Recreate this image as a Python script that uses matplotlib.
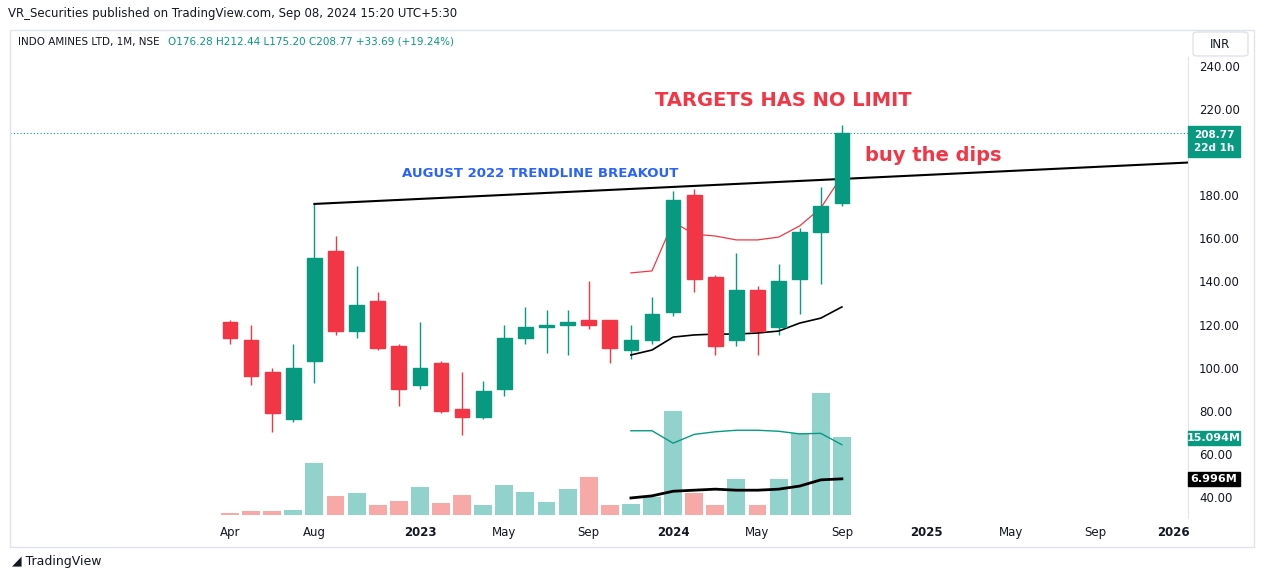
import matplotlib.pyplot as plt
from matplotlib.patches import Rectangle, FancyBboxPatch

W, H = 1264, 578

# monthly candles Apr 2022 .. Sep 2024
opens  = [121, 113, 98, 76, 103, 154, 117, 131, 110, 92, 102, 81, 77, 90, 114, 119, 120, 122, 122, 108,
          113, 126, 180, 142, 113, 136, 119, 141, 163, 176.28]
highs  = [122, 120, 100, 111, 176, 161, 147, 135, 111, 121, 103, 98, 94, 120, 128, 127, 127, 140, 122, 120,
          133, 182, 183, 143, 153, 138, 148, 165, 184, 212.44]
lows   = [111, 92, 70, 75, 93, 115, 114, 108, 82, 90, 79, 69, 76, 87, 111, 107, 106, 118, 102, 104,
          111, 124, 135, 106, 110, 106, 115, 125, 139, 175.20]
closes = [114, 96, 79, 100, 151, 117, 129, 109, 90, 100, 80, 77, 89, 114, 119, 120, 121, 120, 109, 113,
          125, 178, 141, 110, 136, 117, 140, 163, 175, 208.77]
volume = [0.4, 0.8, 0.8, 1.0, 10.1, 3.7, 4.3, 1.9, 2.7, 5.4, 2.3, 3.9, 1.9, 5.8, 4.5, 2.5,
          5.0, 7.4, 1.9, 2.1, 3.5, 20.1, 4.3, 1.9, 7.0, 1.9, 7.0, 15.9, 23.6, 15.094]
# moving averages from Nov 2023
ma_start = 19
price_ma_red = [144.0, 144.9, 167.6, 162.0, 161.1, 159.3, 159.3, 160.6, 165.8, 174.1, 189.0]
price_ma_blk = [105.9, 108.2, 114.2, 115.2, 115.6, 115.6, 116.1, 117.0, 120.7, 123.0, 128.2]
vol_ma_teal = [16.3, 16.3, 13.9, 15.6, 16.1, 16.4, 16.4, 16.2, 15.7, 15.8, 13.6]
vol_ma_blk = [3.3, 3.7, 4.6, 4.8, 5.0, 4.8, 4.8, 5.0, 5.6, 6.8, 6.996]
tick_pos = [0, 4, 9, 13, 17, 21, 25, 29, 33, 37, 41, 44.7]
tick_lbl = ["Apr", "Aug", "2023", "May", "Sep", "2024", "May", "Sep", "2025", "May", "Sep", "2026"]
# 200.00 sits under the last-price tag, so it is not shown
price_ticks = [40, 60, 80, 100, 120, 140, 160, 180, 220, 240]

GREEN, RED = "#089981", "#f23645"
VGREEN, VRED = "#92d2cc", "#f7a9a7"

fig = plt.figure(figsize=(W / 100, H / 100), dpi=100)
L, R, T, B = 10, 1188, 57, 518
ax = fig.add_axes([L / W, 1 - B / H, (R - L) / W, (B - T) / H])
axv = ax.twinx()
ax.set_zorder(axv.get_zorder() + 1)
ax.patch.set_visible(False)

ppu = 2.155
ax.set_ylim(240 - (B - 66) / ppu, 240 + (66 - T) / ppu)
vpp = 0.1935
axv.set_ylim(-(B - 515) * vpp, (515 - T) * vpp)
ax.set_xlim((L - 230) / 21.1, (R - 230) / 21.1)

for i, v in enumerate(volume):
    axv.bar(i, v, width=0.85, color=VGREEN if closes[i] >= opens[i] else VRED, zorder=1)
xm = list(range(ma_start, ma_start + len(vol_ma_teal)))
axv.plot(xm, vol_ma_teal, color=GREEN, lw=1)
axv.plot(xm, vol_ma_blk, color="black", lw=2)

for i in range(len(opens)):
    c = GREEN if closes[i] >= opens[i] else RED
    ax.vlines(i, lows[i], highs[i], color=c, lw=1)
    lo, hi = sorted([opens[i], closes[i]])
    ax.add_patch(Rectangle((i - 0.35, lo), 0.7, max(hi - lo, 0.6), color=c, zorder=3))
ax.plot(xm, price_ma_red, color=RED, lw=0.9)
ax.plot(xm, price_ma_blk, color="black", lw=1.2)

# trendline through Aug 2022 high
ax.plot([4, 45.4], [176, 195.2], color="black", lw=1.5)
ax.axhline(208.77, color=GREEN, lw=0.8, ls=(0, (1, 2)))

ax.text(14.7, 189.9, "AUGUST 2022 TRENDLINE BREAKOUT", color="#2962ff", fontsize=9.5,
        fontweight="bold", ha="center", va="center")
ax.text(26.2, 223.8, "TARGETS HAS NO LIMIT", color=RED, fontsize=14, fontweight="bold",
        ha="center", va="center")
ax.text(30.1, 198.7, "buy the dips", color=RED, fontsize=14, fontweight="semibold", va="center")

ax.set_xticks(tick_pos)
ax.set_xticklabels(tick_lbl, fontsize=8.5, color="#131722")
for lbl in ax.get_xticklabels():
    if lbl.get_text().isdigit():
        lbl.set_fontweight("bold")
ax.tick_params(axis="x", length=0, pad=6)
ax.yaxis.tick_right()
ax.set_yticks(price_ticks)
ax.set_yticklabels([f"{p:.2f}" for p in price_ticks], fontsize=8.5, color="#131722")
ax.tick_params(axis="y", length=0, pad=8)
axv.set_yticks([])
for a in (ax, axv):
    for s in a.spines.values():
        s.set_visible(False)
ax.spines["right"].set_visible(True)
ax.spines["right"].set_color("#e0e3eb")


# right-side labels
def tag(y, txt, fc, h=14):
    fig.patches.append(Rectangle((1188 / W, 1 - (y + h / 2) / H), 52 / W, h / H,
                                 transform=fig.transFigure, color=fc))
    fig.text(1214 / W, 1 - y / H, txt, ha="center", va="center", fontsize=8, color="white", fontweight="bold")


fig.patches.append(Rectangle((1188 / W, 1 - 157 / H), 52 / W, 31 / H, transform=fig.transFigure, color=GREEN))
fig.text(1214 / W, 1 - 141.5 / H, "208.77\n22d 1h", ha="center", va="center", fontsize=7.5,
         color="white", fontweight="bold", linespacing=1.45)
tag(438, "15.094M", GREEN)
tag(479, "6.996M", "black")

fig.patches.append(Rectangle((10 / W, 1 - 547 / H), 1244 / W, 517 / H, transform=fig.transFigure,
                             fill=False, ec="#e0e3eb", lw=1))
fig.patches.append(FancyBboxPatch((1193 / W, 1 - 56 / H), 55 / W, 24 / H,
                                  boxstyle="round,pad=0,rounding_size=0.004",
                                  transform=fig.transFigure, fill=False, ec="#e0e3eb"))
fig.text(1210 / W, 1 - 44 / H, "INR", fontsize=8.5, va="center", color="#131722")
fig.text(8 / W, 1 - 14 / H, "VR_Securities published on TradingView.com, Sep 08, 2024 15:20 UTC+5:30",
         fontsize=8.5, va="center", color="#131722")
fig.text(18 / W, 1 - 42 / H, "INDO AMINES LTD, 1M, NSE", fontsize=7.5, va="center", color="#131722")
fig.text(168 / W, 1 - 42 / H, "O176.28 H212.44 L175.20 C208.77 +33.69 (+19.24%)",
         fontsize=7.5, va="center", color=GREEN)
fig.text(12 / W, 1 - 561 / H, "◢ TradingView", fontsize=9, va="center", color="#131722")

fig.savefig("out.png", dpi=100)
